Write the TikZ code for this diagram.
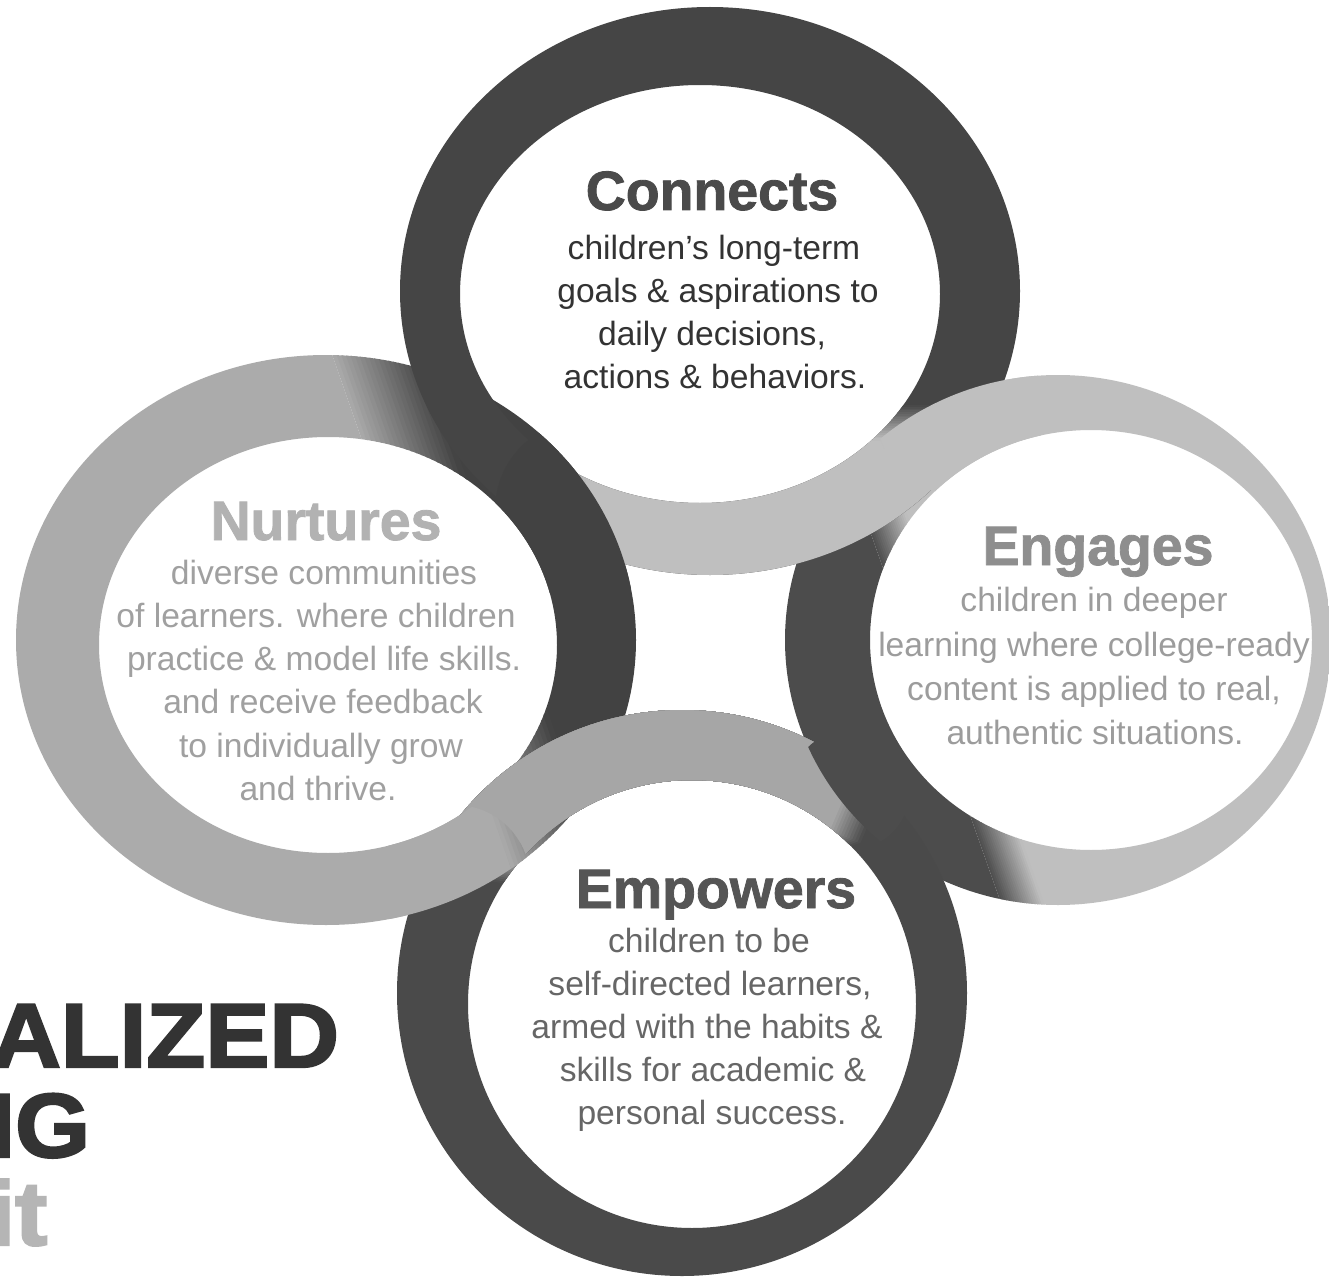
\documentclass[tikz,border=0pt]{standalone}
\usepackage{fontspec}
\setmainfont{Liberation Sans}
\newfontfamily\heavyfont{Liberation Sans Bold}[FakeBold=1.5]
\newfontfamily\heavierfont{Liberation Sans Bold}[FakeBold=2.5]
\definecolor{Cdark}{HTML}{454545}
\definecolor{Clight}{HTML}{BFBFBF}
\definecolor{Ndark}{HTML}{424242}
\definecolor{Nlight}{HTML}{ABABAB}
\definecolor{Edark}{HTML}{4C4C4C}
\definecolor{Elight}{HTML}{BFBFBF}
\definecolor{Mdark}{HTML}{4A4A4A}
\definecolor{Mlight}{HTML}{ABABAB}
\definecolor{Ctitle}{HTML}{4A4A4A}
\definecolor{Cbody}{HTML}{333333}
\definecolor{Ntitle}{HTML}{B2B2B2}
\definecolor{Nbody}{HTML}{A0A0A0}
\definecolor{Etitle}{HTML}{8E8E8E}
\definecolor{Ebody}{HTML}{9C9C9C}
\definecolor{Mtitle}{HTML}{555555}
\definecolor{Mbody}{HTML}{666666}
\definecolor{Bigtxt}{HTML}{333333}
\definecolor{Lighttxt}{HTML}{B5B5B5}

% gradient made of strips: from coordinate #3 (colour #1) to #4 (colour #2)
\newcommand\vstrips[6]{%
  \foreach \k in {0,...,19}{%
    \pgfmathsetmacro\xa{#3+(#4-#3)*\k/20}%
    \pgfmathsetmacro\xb{#3+(#4-#3)*(\k+1.3)/20}%
    \pgfmathtruncatemacro\pc{100-100*(\k+0.5)/20}%
    \fill[#1!\pc!#2] (\xa,#5) rectangle (\xb,#6);
  }}
\newcommand\hstrips[6]{%
  \foreach \k in {0,...,19}{%
    \pgfmathsetmacro\ya{#3+(#4-#3)*\k/20}%
    \pgfmathsetmacro\yb{#3+(#4-#3)*(\k+1.3)/20}%
    \pgfmathtruncatemacro\pc{100-100*(\k+0.5)/20}%
    \fill[#1!\pc!#2] (#5,\ya) rectangle (#6,\yb);
  }}

\newcommand\ringC{(710,291) ellipse [x radius=310, y radius=284] (700,294) ellipse [x radius=-240, y radius=209]}
\newcommand\ringN{(326,640) ellipse [x radius=310, y radius=285] (328,645) ellipse [x radius=-229, y radius=208]}
\newcommand\ringE{(1058,640) ellipse [x radius=273, y radius=265] (1091,640) ellipse [x radius=-221, y radius=210]}
\newcommand\ringM{(682,993) ellipse [x radius=285, y radius=283] (692,1004) ellipse [x radius=-224, y radius=224]}
\newcommand\Mlightzone{(380,640) -- (940,640) -- (860,760) -- (830,830) -- (700,880) -- (560,870) -- (500,860) -- (440,860) -- (380,800) -- cycle}

\newcommand\paintC{%
  \fill[Cdark] (380,-20) rectangle (1050,600);
  \fill[Clight] (585,440) rectangle (1050,600);
  \hstrips{Cdark}{Clight}{405}{440}{585}{1050}
  \vstrips{Cdark}{Clight}{540}{585}{440}{600}}
\newcommand\paintN{%
  \begin{scope}[rotate around={19.2:(520,590)}]
    \fill[Nlight] (-100,100) rectangle (420,1200);
    \fill[Ndark] (505,100) rectangle (900,1200);
    \vstrips{Nlight}{Ndark}{420}{505}{100}{1200}
  \end{scope}}
\newcommand\paintE{%
  \begin{scope}[rotate around={19.4:(940,730)}]
    \fill[Edark] (500,200) rectangle (940,1300);
    \fill[Elight] (980,200) rectangle (1600,1300);
    \vstrips{Edark}{Elight}{940}{980}{200}{1300}
  \end{scope}}
\newcommand\paintM{%
  \fill[Mdark] (380,690) rectangle (990,1300);
  \foreach \k in {0,...,11}{%
    \pgfmathsetmacro\sc{1.18-0.18*\k/11}%
    \pgfmathtruncatemacro\pc{100*(\k+0.5)/12}%
    \fill[Mlight!\pc!Mdark, scale around={\sc:(660,760)}] \Mlightzone;
  }}

\newcommand\drawring[2]{\begin{scope}[even odd rule]\clip #1; #2\end{scope}}

\tikzset{
  ttl/.style={inner sep=0pt, anchor=base, font=\fontsize{27.7}{30}\selectfont\heavyfont},
  bdy/.style={inner sep=0pt, anchor=base, font=\fontsize{16.8}{20}\selectfont},
  big/.style={inner sep=0pt, anchor=base west, font=\fontsize{45.4}{50}\selectfont\heavierfont, xscale=1.06},
}

\begin{document}
\begin{tikzpicture}[x=0.5pt,y=-0.5pt]
\useasboundingbox (0,0) rectangle (1329,1279);
\fill[white] (0,0) rectangle (1329,1279);

% rings, base order
\drawring{\ringN}{\paintN}
\drawring{\ringE}{\paintE}
\drawring{\ringM}{\paintM}
\drawring{\ringC}{\paintC}
% interlocking fixes
\begin{scope}\clip (585,510) circle (90); \drawring{\ringN}{\paintN}\end{scope}
\begin{scope}\clip (960,410) circle (85); \drawring{\ringE}{\paintE}\end{scope}
\begin{scope}\clip (850,790) circle (60); \drawring{\ringE}{\paintE}\end{scope}
\begin{scope}\clip (455,880) circle (75); \drawring{\ringN}{\paintN}\end{scope}

% Connects
\node[ttl, text=Ctitle] (cT) at (712,210) {Connects};
\node[bdy, text=Cbody] (c1) at (714,259) {children’s long-term};
\node[bdy, text=Cbody] (c2) at (718,302) {goals \& aspirations to};
\node[bdy, text=Cbody] (c3) at (712,345) {daily decisions,};
\node[bdy, text=Cbody] (c4) at (715,388) {actions \& behaviors.};

% Nurtures
\node[ttl, text=Ntitle] (nT) at (326,540) {Nurtures};
\node[bdy, text=Nbody] (n1) at (324,584) {diverse communities};
\node[bdy, text=Nbody] (n2) at (316,627) {of learners. where children};
\node[bdy, text=Nbody] (n3) at (324,670) {practice \& model life skills.};
\node[bdy, text=Nbody] (n4) at (323,713) {and receive feedback};
\node[bdy, text=Nbody] (n5) at (321,757) {to individually grow};
\node[bdy, text=Nbody] (n6) at (318,800) {and thrive.};

% Engages
\node[ttl, text=Etitle] (eT) at (1098,565) {Engages};
\node[bdy, text=Ebody] (e1) at (1094,611) {children in deeper};
\node[bdy, text=Ebody] (e2) at (1094,656) {learning where college-ready};
\node[bdy, text=Ebody] (e3) at (1094,700) {content is applied to real,};
\node[bdy, text=Ebody] (e4) at (1095,744) {authentic situations.};

% Empowers
\node[ttl, text=Mtitle] (mT) at (716,908) {Empowers};
\node[bdy, text=Mbody] (m1) at (709,952) {children to be};
\node[bdy, text=Mbody] (m2) at (710,995) {self-directed learners,};
\node[bdy, text=Mbody] (m3) at (707,1038) {armed with the habits \&};
\node[bdy, text=Mbody] (m4) at (713,1081) {skills for academic \&};
\node[bdy, text=Mbody] (m5) at (712,1124) {personal success.};

% cut-off heading at the left
\node[big, text=Bigtxt] (h1) at (-9,1067) {ALIZED};
\node[big, text=Bigtxt] (h2) at (-12,1157) {IG};
\node[big, text=Lighttxt] (h3) at (-12,1245) {it};
\end{tikzpicture}
\end{document}
